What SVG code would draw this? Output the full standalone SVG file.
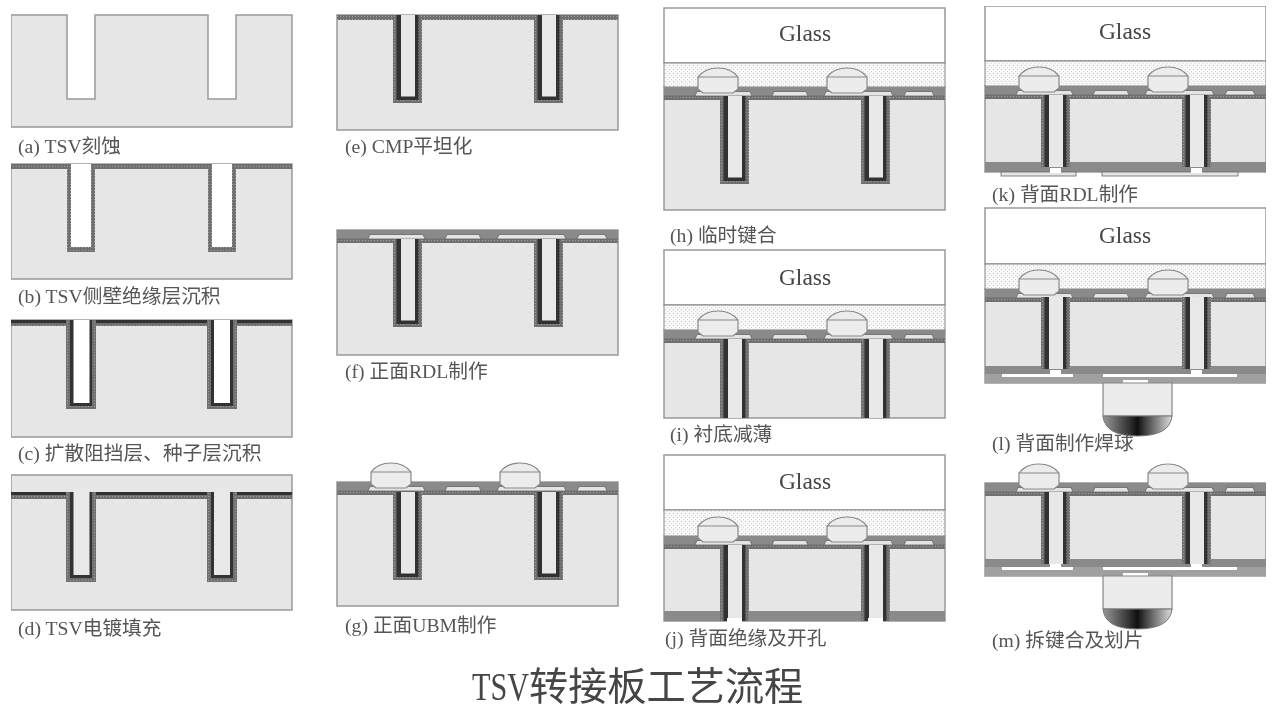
<svg xmlns="http://www.w3.org/2000/svg" width="1280" height="710" viewBox="0 0 1280 710">
<style>
.sub{fill:#e6e6e6;stroke:#999;stroke-width:1.5}
.glass{fill:#fff;stroke:#999;stroke-width:1.5}
.dots{fill:url(#dots);stroke:#888;stroke-width:1}
.hat{fill:url(#hatch)}
.dark{fill:#333}
.fill{fill:#e8e8e8}
.gray{fill:#8a8a8a}
.gray2{fill:#a0a0a0}
.pad{fill:#e4e4e4;stroke:#666;stroke-width:.8}
.bump{fill:#ececec;stroke:#888;stroke-width:1.2}
.wh{fill:#fff}
.lb{font-family:"Liberation Serif","Noto Sans CJK SC",serif;font-size:19.7px;fill:#555}
.gl{font-family:"Liberation Serif",serif;font-size:23.5px;fill:#444;text-anchor:middle}
.title{font-family:"Noto Sans CJK SC",sans-serif;font-size:39.2px;fill:#444}
</style>
<defs>
<filter id="soft" x="0" y="0" width="100%" height="100%"><feGaussianBlur stdDeviation="0.5"/></filter>
<pattern id="hatch" width="3" height="3" patternUnits="userSpaceOnUse"><rect width="3" height="3" fill="#707070"/><rect x="1" y="1" width="1" height="1" fill="#a0a0a0"/></pattern>
<pattern id="dots" width="4" height="4" patternUnits="userSpaceOnUse"><rect width="4" height="4" fill="#f6f6f6"/><rect x="1" y="1" width="1" height="1" fill="#cfcfcf"/><rect x="3" y="3" width="1" height="1" fill="#dcdcdc"/></pattern>
<linearGradient id="ball"><stop offset="0" stop-color="#999"/><stop offset=".5" stop-color="#111"/><stop offset="1" stop-color="#ddd"/></linearGradient>
<g id="blind"><rect class="hat" width="29" height="88"/><rect class="dark" x="3.5" width="22" height="85"/><rect class="fill" x="8" width="14" height="81.5"/></g>
<g id="thru"><rect class="hat" width="29" height="72"/><rect class="dark" x="3.5" width="22" height="72"/><rect class="fill" x="8" width="14" height="72"/></g>
<g id="pads"><path class="pad" d="M31,9 L33,4.500 H86 L88,9 Z M108,9 L110,4.500 H142 L144,9 Z M160,9 L162,4.500 H227 L229,9 Z M240,9 L242,4.500 H268 L270,9 Z"/></g>
<g id="frontF"><rect class="gray" width="281" height="9"/><rect class="hat" y="8.500" width="281" height="4.500"/><use href="#pads"/></g>
<path id="bump" class="bump" d="M6,25 L1,21 V9 Q8,0 21,0 Q34,0 41,9 V21 L36,25 Z M1,9 H41"/>
<g id="frontB"><use href="#frontF"/><use href="#bump" x="33" y="-19"/><use href="#bump" x="162" y="-19"/></g>
<g id="backRDL"><rect class="gray" width="281" height="8"/><rect class="gray2" y="8" width="281" height="9"/><rect class="wh" x="17" y="8" width="71" height="3"/><rect class="wh" x="118" y="8" width="134" height="3"/><rect class="wh" x="65" y="4" width="11" height="5"/><rect class="wh" x="206" y="4" width="11" height="5"/><rect class="wh" x="138" y="14" width="25" height="3"/></g>
<path id="solder" class="bump" d="M0,0 V33 H69 V0 Z"/>
<path id="ballshape" fill="url(#ball)" stroke="#777" d="M0,0 Q2,20 34,20 Q67,20 69,0 Z"/>
</defs>
<rect width="1280" height="710" fill="#fff"/>
<g filter="url(#soft)">
<g id="panel-a">
<path class="sub" d="M11,15 H67 V99 H95 V15 H208 V99 H236 V15 H292 V127 H11 Z"/>
<text class="lb" x="18" y="153">(a) TSV刻蚀</text>
</g>
<g id="panel-b">
<rect class="sub" x="11" y="164" width="281" height="115"/>
<rect class="hat" x="11" y="164" width="281" height="5"/>
<rect class="hat" x="67" y="164" width="28" height="88"/><rect class="wh" x="71" y="164" width="20" height="83"/>
<rect class="hat" x="208" y="164" width="28" height="88"/><rect class="wh" x="212" y="164" width="20" height="83"/>
<text class="lb" x="18" y="303">(b) TSV侧壁绝缘层沉积</text>
</g>
<g id="panel-c">
<rect class="sub" x="11" y="320" width="281" height="117"/>
<rect class="hat" x="11" y="322" width="281" height="4"/><rect class="dark" x="11" y="320" width="281" height="3"/>
<rect class="hat" x="66" y="320" width="30" height="89"/><rect class="dark" x="70" y="320" width="22" height="86"/><rect class="wh" x="73.500" y="320" width="16" height="83"/>
<rect class="hat" x="207" y="320" width="30" height="89"/><rect class="dark" x="211" y="320" width="22" height="86"/><rect class="wh" x="214" y="320" width="16" height="83"/>
<text class="lb" x="18" y="460">(c) 扩散阻挡层、种子层沉积</text>
</g>
<g id="panel-d">
<rect class="sub" x="11" y="475" width="281" height="135"/>
<rect class="hat" x="11" y="494" width="281" height="5"/><rect class="dark" x="11" y="492" width="281" height="3"/>
<rect class="hat" x="66" y="492" width="30" height="90"/><rect class="dark" x="70" y="492" width="22" height="86"/><rect class="fill" x="73.500" y="488" width="16" height="87"/>
<rect class="hat" x="207" y="492" width="30" height="90"/><rect class="dark" x="211" y="492" width="22" height="86"/><rect class="fill" x="214" y="488" width="16" height="87"/>
<text class="lb" x="18" y="635">(d) TSV电镀填充</text>
</g>
<g id="panel-e">
<rect class="sub" x="337" y="15" width="281" height="115"/>
<rect class="hat" x="337" y="15" width="281" height="5"/>
<use href="#blind" x="393" y="15"/><use href="#blind" x="534" y="15"/>
<text class="lb" x="345" y="153">(e) CMP平坦化</text>
</g>
<g id="panel-f">
<rect class="sub" x="337" y="230" width="281" height="125"/>
<use href="#frontF" x="337" y="230"/>
<use href="#blind" x="393" y="239"/><use href="#blind" x="534" y="239"/>
<text class="lb" x="345" y="378">(f) 正面RDL制作</text>
</g>
<g id="panel-g">
<rect class="sub" x="337" y="482" width="281" height="124"/>
<use href="#frontB" x="337" y="482"/>
<use href="#blind" x="393" y="492"/><use href="#blind" x="534" y="492"/>
<text class="lb" x="345" y="632">(g) 正面UBM制作</text>
</g>
<g id="panel-h">
<rect class="sub" x="664" y="87" width="281" height="123"/>
<rect class="glass" x="664" y="8" width="281" height="55"/>
<rect class="dots" x="664" y="63" width="281" height="24"/>
<use href="#frontB" x="664" y="87"/>
<use href="#blind" x="720" y="96"/><use href="#blind" x="861" y="96"/>
<text class="gl" x="805" y="41">Glass</text>
<text class="lb" x="670" y="242">(h) 临时键合</text>
</g>
<g id="panel-i">
<rect class="sub" x="664" y="330" width="281" height="88"/>
<rect class="glass" x="664" y="250" width="281" height="55"/>
<rect class="dots" x="664" y="305" width="281" height="25"/>
<use href="#frontB" x="664" y="330"/>
<use href="#thru" transform="translate(720,339) scale(1,1.097)"/><use href="#thru" transform="translate(861,339) scale(1,1.097)"/>
<text class="gl" x="805" y="285">Glass</text>
<text class="lb" x="670" y="441">(i) 衬底减薄</text>
</g>
<g id="panel-j">
<rect class="sub" x="664" y="536" width="281" height="85"/>
<rect class="glass" x="664" y="455" width="281" height="55"/>
<rect class="dots" x="664" y="510" width="281" height="26"/>
<use href="#frontB" x="664" y="536"/>
<rect class="gray" x="664" y="611" width="281" height="10"/>
<use href="#thru" transform="translate(720,545) scale(1,1.056)"/><use href="#thru" transform="translate(861,545) scale(1,1.056)"/>
<rect class="wh" x="727" y="618" width="15" height="4"/><rect class="wh" x="868" y="618" width="15" height="4"/>
<text class="gl" x="805" y="489">Glass</text>
<text class="lb" x="665" y="645">(j) 背面绝缘及开孔</text>
</g>
<g id="panel-k">
<rect class="sub" x="985" y="86" width="281" height="86"/>
<rect class="glass" x="985" y="6" width="281" height="55"/>
<rect class="dots" x="985" y="61" width="281" height="25"/>
<use href="#frontB" x="985" y="86"/>
<rect class="gray" x="985" y="162" width="281" height="10"/>
<use href="#thru" x="1041" y="95"/><use href="#thru" x="1182" y="95"/>
<rect class="pad" x="1001" y="172" width="75" height="4"/><rect class="pad" x="1102" y="172" width="136" height="4"/>
<rect class="wh" x="1050" y="168" width="11" height="5"/><rect class="wh" x="1191" y="168" width="11" height="5"/>
<text class="gl" x="1125" y="39">Glass</text>
<text class="lb" x="992" y="201">(k) 背面RDL制作</text>
</g>
<g id="panel-l">
<rect class="sub" x="985" y="289" width="281" height="94"/>
<rect class="glass" x="985" y="208" width="281" height="56"/>
<rect class="dots" x="985" y="264" width="281" height="25"/>
<use href="#frontB" x="985" y="289"/>
<use href="#backRDL" x="985" y="366"/>
<use href="#thru" x="1041" y="297"/><use href="#thru" x="1182" y="297"/>
<use href="#solder" x="1103" y="383"/><use href="#ballshape" x="1103" y="416"/>
<text class="gl" x="1125" y="243">Glass</text>
<text class="lb" x="992" y="450">(l) 背面制作焊球</text>
</g>
<g id="panel-m">
<rect class="sub" x="985" y="483" width="281" height="93"/>
<use href="#frontB" x="985" y="483"/>
<use href="#backRDL" x="985" y="559"/>
<use href="#thru" x="1041" y="492"/><use href="#thru" x="1182" y="492"/>
<use href="#solder" x="1103" y="576"/><use href="#ballshape" x="1103" y="609"/>
<text class="lb" x="992" y="647">(m) 拆键合及划片</text>
</g>
<text id="title" class="title" x="472" y="700"><tspan font-family="Liberation Serif" font-size="40" textLength="57" lengthAdjust="spacingAndGlyphs">TSV</tspan>转接板工艺流程</text>
</g>
</svg>
